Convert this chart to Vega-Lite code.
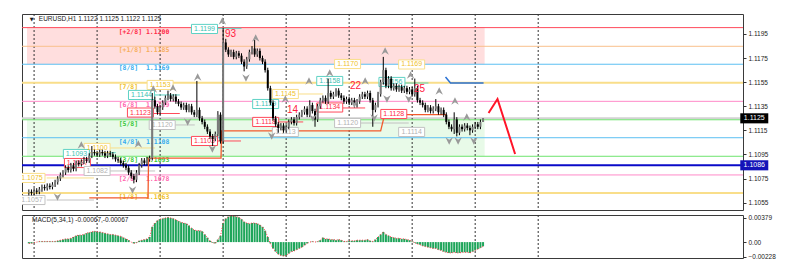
{
"$schema":"https://vega.github.io/schema/vega-lite/v6.json",
"background":"white",
"padding":{"left":20,"top":13,"right":5,"bottom":5},
"spacing":2,
"config":{"view":{"stroke":"#3a3a3a","strokeWidth":1},"font":"Liberation Sans"},
"datasets":{
"zones":[{"t":-2.7,"t2":171.6,"p":1.12003,"p2":1.11699,"z":"pink"},{"t":-2.7,"t2":171.6,"p":1.11238,"p2":1.10935,"z":"green"}],
"cur":[{"p":1.1125}],
"grid":[{"t":0},{"t":24},{"t":48},{"t":72},{"t":96},{"t":120},{"t":144},{"t":168},{"t":192}],
"mm":[{"lvl":"[+2/8]","txt":"1.1200","p":1.12003,"col":"red"},{"lvl":"[+1/8]","txt":"1.1185","p":1.11848,"col":"orange"},{"lvl":"[8/8]","txt":"1.1169","p":1.11699,"col":"sky"},{"lvl":"[7/8]","txt":"","p":1.11545,"col":"yellow"},{"lvl":"[6/8]","txt":"1.1139","p":1.11391,"col":"pink"},{"lvl":"[5/8]","txt":"","p":1.11238,"col":"green"},{"lvl":"[4/8]","txt":"1.1108","p":1.11089,"col":"sky"},{"lvl":"[3/8]","txt":"1.1093","p":1.10935,"col":"green"},{"lvl":"[2/8]","txt":"1.1078","p":1.1078,"col":"pink"},{"lvl":"[1/8]","txt":"1.1063","p":1.10631,"col":"yellow"},{"lvl":"","txt":"","p":1.1086,"col":"dblue"}],
"labels":[{"t":64.9,"p":1.11992,"txt":"1.1199","col":"teal"},{"t":48.0,"p":1.11527,"txt":"1.1153","col":"yellow"},{"t":40.9,"p":1.11444,"txt":"1.1144","col":"teal"},{"t":40.5,"p":1.11298,"txt":"1.1123","col":"red"},{"t":48.8,"p":1.11195,"txt":"1.1120","col":"grey"},{"t":64.9,"p":1.11062,"txt":"1.1103","col":"red"},{"t":24.0,"p":1.11004,"txt":"1.1100","col":"yellow"},{"t":16.1,"p":1.10954,"txt":"1.1093","col":"teal"},{"t":16.5,"p":1.10879,"txt":"1.1087","col":"red"},{"t":24.0,"p":1.10813,"txt":"1.1082","col":"grey"},{"t":-0.8,"p":1.10755,"txt":"1.1075","col":"yellow"},{"t":-0.8,"p":1.10572,"txt":"1.1057","col":"grey"},{"t":95.7,"p":1.11452,"txt":"1.1145","col":"yellow"},{"t":112.6,"p":1.1156,"txt":"1.1158","col":"teal"},{"t":119.4,"p":1.11701,"txt":"1.1170","col":"yellow"},{"t":112.6,"p":1.1134,"txt":"1.1134","col":"red"},{"t":119.4,"p":1.11211,"txt":"1.1120","col":"grey"},{"t":95.7,"p":1.11137,"txt":"1.1113","col":"grey"},{"t":88.2,"p":1.11369,"txt":"1.1139","col":"teal"},{"t":88.2,"p":1.1122,"txt":"1.1118","col":"red"},{"t":143.8,"p":1.11697,"txt":"1.1169","col":"yellow"},{"t":136.3,"p":1.11552,"txt":"1.1156","col":"teal"},{"t":137.0,"p":1.11286,"txt":"1.1128","col":"red"},{"t":143.8,"p":1.11137,"txt":"1.1114","col":"grey"}],
"segs":[{"t":69.5,"t2":79,"p":1.11997,"col":"teal"},{"t":45.4,"t2":55.5,"p":1.11444,"col":"teal"},{"t":44.3,"t2":55.5,"p":1.1129,"col":"red"},{"t":52.5,"t2":61.2,"p":1.11195,"col":"grey"},{"t":68.7,"t2":78.8,"p":1.11062,"col":"red"},{"t":28.5,"t2":46.1,"p":1.11004,"col":"yellow"},{"t":28.5,"t2":46.1,"p":1.10813,"col":"grey"},{"t":4.8,"t2":22.8,"p":1.10755,"col":"yellow"},{"t":4.8,"t2":22.8,"p":1.10572,"col":"grey"},{"t":19.1,"t2":31.1,"p":1.10965,"col":"teal"},{"t":100.6,"t2":110,"p":1.11452,"col":"yellow"},{"t":117.5,"t2":126.1,"p":1.11336,"col":"red"},{"t":93,"t2":102.5,"p":1.1122,"col":"red"},{"t":140.7,"t2":150.2,"p":1.11543,"col":"teal"},{"t":124,"t2":142.7,"p":1.11211,"col":"grey"}],
"step":[{"t":21,"p":1.1059},{"t":43.4,"p":1.1059},{"t":43.6,"p":1.1092},{"t":71.2,"p":1.1092},{"t":71.4,"p":1.11146},{"t":132,"p":1.11146},{"t":133.5,"p":1.1128},{"t":157,"p":1.1128}],
"fr":[{"t":45.4,"p":1.11494,"d":"u"},{"t":52.9,"p":1.11502,"d":"u"},{"t":62.3,"p":1.11593,"d":"u"},{"t":71.7,"p":1.12058,"d":"u"},{"t":84.4,"p":1.11917,"d":"u"},{"t":18.0,"p":1.11029,"d":"u"},{"t":39.7,"p":1.11037,"d":"u"},{"t":95.7,"p":1.11411,"d":"u"},{"t":104.7,"p":1.1156,"d":"u"},{"t":112.6,"p":1.11626,"d":"u"},{"t":126.1,"p":1.1156,"d":"u"},{"t":133.7,"p":1.11809,"d":"u"},{"t":143.4,"p":1.1161,"d":"u"},{"t":154.3,"p":1.11477,"d":"u"},{"t":160.3,"p":1.11394,"d":"u"},{"t":164.8,"p":1.11261,"d":"u"},{"t":80.7,"p":1.11585,"d":"d"},{"t":37.5,"p":1.10655,"d":"d"},{"t":8.9,"p":1.10597,"d":"d"},{"t":58.5,"p":1.1122,"d":"d"},{"t":67.9,"p":1.10996,"d":"d"},{"t":90.5,"p":1.11103,"d":"d"},{"t":106.2,"p":1.11253,"d":"d"},{"t":122.0,"p":1.11369,"d":"d"},{"t":129.5,"p":1.11253,"d":"d"},{"t":134.4,"p":1.11411,"d":"d"},{"t":142.7,"p":1.11411,"d":"d"},{"t":158.1,"p":1.11062,"d":"d"},{"t":161.5,"p":1.11062,"d":"d"},{"t":167.5,"p":1.11062,"d":"d"}],
"nums":[{"t":74.8,"p":1.1195,"txt":"93"},{"t":98.4,"p":1.11319,"txt":"14"},{"t":122.4,"p":1.11518,"txt":"22"},{"t":146.8,"p":1.11494,"txt":"25"}],
"bline":[{"t":156.7,"p":1.11593},{"t":158.6,"p":1.11543},{"t":171.2,"p":1.11543}],
"proj":[{"t":173.1,"p":1.11294},{"t":176.5,"p":1.1141},{"t":183.2,"p":1.10954}],
"px":[{"t":274.3,"p":1.1125,"txt":"1.1125","k":"cur"},{"t":274.3,"p":1.1086,"txt":"1.1086","k":"blue"}],
"hdr":[{"t":1.8,"p":1.12075,"txt":"EURUSD,H1  1.1122 1.1125 1.1122 1.1125"}],
"tri":[{"t":-0.9,"p":1.12075,"txt":"▼"}],
"mtitle":[{"t":-0.8,"m":0.00352,"txt":"MACD(5,34,1) -0.00067,-0.00067"}],
"candles":[
{"t":-2,"o":1.1063,"h":1.1066,"l":1.1061,"c":1.1064,"m":-0.0002},
{"t":-1,"o":1.1064,"h":1.1066,"l":1.1061,"c":1.1063,"m":-0.0002},
{"t":0,"o":1.1063,"h":1.1067,"l":1.1061,"c":1.1065,"m":-0.0001},
{"t":1,"o":1.1065,"h":1.1067,"l":1.1062,"c":1.1064,"m":0.0},
{"t":2,"o":1.1064,"h":1.1068,"l":1.1062,"c":1.1066,"m":0.0001},
{"t":3,"o":1.1066,"h":1.107,"l":1.1064,"c":1.1068,"m":0.0001},
{"t":4,"o":1.1068,"h":1.107,"l":1.1065,"c":1.1067,"m":0.0001},
{"t":5,"o":1.1067,"h":1.1071,"l":1.1065,"c":1.1069,"m":0.0001},
{"t":6,"o":1.1069,"h":1.1071,"l":1.1066,"c":1.1068,"m":0.0001},
{"t":7,"o":1.1068,"h":1.1072,"l":1.1066,"c":1.107,"m":0.0001},
{"t":8,"o":1.107,"h":1.1074,"l":1.1068,"c":1.1072,"m":0.0001},
{"t":9,"o":1.1072,"h":1.1077,"l":1.107,"c":1.1075,"m":0.0002},
{"t":10,"o":1.1075,"h":1.108,"l":1.1073,"c":1.1078,"m":0.0003},
{"t":11,"o":1.1078,"h":1.1082,"l":1.1076,"c":1.108,"m":0.0004},
{"t":12,"o":1.108,"h":1.1086,"l":1.1078,"c":1.1084,"m":0.0005},
{"t":13,"o":1.1084,"h":1.1086,"l":1.108,"c":1.1082,"m":0.0005},
{"t":14,"o":1.1082,"h":1.1088,"l":1.108,"c":1.1086,"m":0.0006},
{"t":15,"o":1.1086,"h":1.1088,"l":1.1081,"c":1.1083,"m":0.0008},
{"t":16,"o":1.1083,"h":1.109,"l":1.1081,"c":1.1088,"m":0.001},
{"t":17,"o":1.1088,"h":1.109,"l":1.1085,"c":1.1087,"m":0.0011},
{"t":18,"o":1.1087,"h":1.1091,"l":1.1085,"c":1.1089,"m":0.0011},
{"t":19,"o":1.1089,"h":1.1093,"l":1.1087,"c":1.1091,"m":0.0012},
{"t":20,"o":1.1091,"h":1.1093,"l":1.1088,"c":1.109,"m":0.0014},
{"t":21,"o":1.109,"h":1.1096,"l":1.1088,"c":1.1094,"m":0.0015},
{"t":22,"o":1.1094,"h":1.1102,"l":1.1092,"c":1.1097,"m":0.0016},
{"t":23,"o":1.1097,"h":1.1099,"l":1.1094,"c":1.1096,"m":0.0017},
{"t":24,"o":1.1096,"h":1.1098,"l":1.1093,"c":1.1095,"m":0.0016},
{"t":25,"o":1.1095,"h":1.1099,"l":1.1093,"c":1.1097,"m":0.0016},
{"t":26,"o":1.1097,"h":1.1099,"l":1.1094,"c":1.1096,"m":0.0015},
{"t":27,"o":1.1096,"h":1.1098,"l":1.1092,"c":1.1094,"m":0.0014},
{"t":28,"o":1.1094,"h":1.1098,"l":1.1092,"c":1.1096,"m":0.0013},
{"t":29,"o":1.1096,"h":1.1098,"l":1.1093,"c":1.1095,"m":0.0012},
{"t":30,"o":1.1095,"h":1.1097,"l":1.1091,"c":1.1093,"m":0.0012},
{"t":31,"o":1.1093,"h":1.1095,"l":1.1089,"c":1.1091,"m":0.0011},
{"t":32,"o":1.1091,"h":1.1093,"l":1.1088,"c":1.109,"m":0.001},
{"t":33,"o":1.109,"h":1.1092,"l":1.1086,"c":1.1088,"m":0.0009},
{"t":34,"o":1.1088,"h":1.109,"l":1.1084,"c":1.1086,"m":0.0007},
{"t":35,"o":1.1086,"h":1.1088,"l":1.1082,"c":1.1084,"m":0.0005},
{"t":36,"o":1.1084,"h":1.1086,"l":1.1078,"c":1.108,"m":0.0003},
{"t":37,"o":1.108,"h":1.1082,"l":1.1075,"c":1.1077,"m":0.0},
{"t":38,"o":1.1077,"h":1.1079,"l":1.1071,"c":1.1074,"m":-0.0002},
{"t":39,"o":1.1074,"h":1.1082,"l":1.1072,"c":1.108,"m":-0.0001},
{"t":40,"o":1.108,"h":1.1088,"l":1.1078,"c":1.1086,"m":0.0002},
{"t":41,"o":1.1086,"h":1.1092,"l":1.1084,"c":1.109,"m":0.0003},
{"t":42,"o":1.109,"h":1.1092,"l":1.1086,"c":1.1088,"m":0.0004},
{"t":43,"o":1.1088,"h":1.1093,"l":1.1086,"c":1.1091,"m":0.0005},
{"t":44,"o":1.1091,"h":1.1094,"l":1.1089,"c":1.1092,"m":0.0008},
{"t":45,"o":1.1092,"h":1.1146,"l":1.109,"c":1.114,"m":0.0024},
{"t":46,"o":1.114,"h":1.1143,"l":1.1133,"c":1.1135,"m":0.003},
{"t":47,"o":1.1135,"h":1.1137,"l":1.1128,"c":1.113,"m":0.0034},
{"t":48,"o":1.113,"h":1.1136,"l":1.1128,"c":1.1134,"m":0.0036},
{"t":49,"o":1.1134,"h":1.114,"l":1.1132,"c":1.1138,"m":0.0037},
{"t":50,"o":1.1138,"h":1.1144,"l":1.1136,"c":1.1142,"m":0.0038},
{"t":51,"o":1.1142,"h":1.1148,"l":1.114,"c":1.1144,"m":0.0039},
{"t":52,"o":1.1144,"h":1.1146,"l":1.1139,"c":1.1141,"m":0.0038},
{"t":53,"o":1.1141,"h":1.1145,"l":1.1139,"c":1.1143,"m":0.0037},
{"t":54,"o":1.1143,"h":1.1145,"l":1.1137,"c":1.1139,"m":0.0035},
{"t":55,"o":1.1139,"h":1.1141,"l":1.1135,"c":1.1137,"m":0.0033},
{"t":56,"o":1.1137,"h":1.1139,"l":1.1132,"c":1.1134,"m":0.0031},
{"t":57,"o":1.1134,"h":1.1138,"l":1.1132,"c":1.1136,"m":0.003},
{"t":58,"o":1.1136,"h":1.1138,"l":1.113,"c":1.1132,"m":0.0029},
{"t":59,"o":1.1132,"h":1.1137,"l":1.113,"c":1.1135,"m":0.0026},
{"t":60,"o":1.1135,"h":1.1137,"l":1.1128,"c":1.113,"m":0.0022},
{"t":61,"o":1.113,"h":1.1132,"l":1.1126,"c":1.1128,"m":0.0019},
{"t":62,"o":1.1128,"h":1.1156,"l":1.1126,"c":1.1132,"m":0.0018},
{"t":63,"o":1.1132,"h":1.1134,"l":1.1123,"c":1.1125,"m":0.0018},
{"t":64,"o":1.1125,"h":1.1127,"l":1.112,"c":1.1122,"m":0.0017},
{"t":65,"o":1.1122,"h":1.1124,"l":1.1116,"c":1.1118,"m":0.0012},
{"t":66,"o":1.1118,"h":1.112,"l":1.1112,"c":1.1114,"m":0.0007},
{"t":67,"o":1.1114,"h":1.1116,"l":1.1108,"c":1.111,"m":0.0002},
{"t":68,"o":1.111,"h":1.1112,"l":1.1102,"c":1.1108,"m":-0.0001},
{"t":69,"o":1.1108,"h":1.1114,"l":1.1106,"c":1.1112,"m":-0.0002},
{"t":70,"o":1.1112,"h":1.1131,"l":1.111,"c":1.1128,"m":0.0004},
{"t":71,"o":1.1128,"h":1.113,"l":1.1104,"c":1.1106,"m":0.001},
{"t":72,"o":1.1106,"h":1.12,"l":1.1104,"c":1.1188,"m":0.003},
{"t":73,"o":1.1188,"h":1.1191,"l":1.118,"c":1.1182,"m":0.0037},
{"t":74,"o":1.1182,"h":1.1184,"l":1.1176,"c":1.1178,"m":0.004},
{"t":75,"o":1.1178,"h":1.1182,"l":1.1176,"c":1.118,"m":0.0041},
{"t":76,"o":1.118,"h":1.1182,"l":1.1174,"c":1.1176,"m":0.0041},
{"t":77,"o":1.1176,"h":1.1181,"l":1.1174,"c":1.1179,"m":0.004},
{"t":78,"o":1.1179,"h":1.1181,"l":1.1175,"c":1.1177,"m":0.0039},
{"t":79,"o":1.1177,"h":1.1179,"l":1.117,"c":1.1172,"m":0.0036},
{"t":80,"o":1.1172,"h":1.1174,"l":1.1164,"c":1.1168,"m":0.0032},
{"t":81,"o":1.1168,"h":1.1176,"l":1.1166,"c":1.1174,"m":0.003},
{"t":82,"o":1.1174,"h":1.1182,"l":1.1172,"c":1.118,"m":0.0029},
{"t":83,"o":1.118,"h":1.1185,"l":1.1178,"c":1.1183,"m":0.003},
{"t":84,"o":1.1183,"h":1.119,"l":1.1176,"c":1.1178,"m":0.003},
{"t":85,"o":1.1178,"h":1.1183,"l":1.1176,"c":1.1181,"m":0.0029},
{"t":86,"o":1.1181,"h":1.1183,"l":1.1173,"c":1.1175,"m":0.0027},
{"t":87,"o":1.1175,"h":1.1177,"l":1.117,"c":1.1172,"m":0.0024},
{"t":88,"o":1.1172,"h":1.1174,"l":1.1163,"c":1.1165,"m":0.0018},
{"t":89,"o":1.1165,"h":1.1167,"l":1.1148,"c":1.115,"m":0.0008},
{"t":90,"o":1.115,"h":1.1152,"l":1.1136,"c":1.1138,"m":-0.0002},
{"t":91,"o":1.1138,"h":1.114,"l":1.1123,"c":1.1125,"m":-0.001},
{"t":92,"o":1.1125,"h":1.1127,"l":1.1118,"c":1.112,"m":-0.0015},
{"t":93,"o":1.112,"h":1.1122,"l":1.1113,"c":1.1117,"m":-0.0019},
{"t":94,"o":1.1117,"h":1.1121,"l":1.1115,"c":1.1119,"m":-0.0021},
{"t":95,"o":1.1119,"h":1.1121,"l":1.1113,"c":1.1115,"m":-0.0022},
{"t":96,"o":1.1115,"h":1.112,"l":1.1113,"c":1.1118,"m":-0.0021},
{"t":97,"o":1.1118,"h":1.1124,"l":1.1116,"c":1.1122,"m":-0.0018},
{"t":98,"o":1.1122,"h":1.1126,"l":1.112,"c":1.1124,"m":-0.0015},
{"t":99,"o":1.1124,"h":1.1126,"l":1.1119,"c":1.1121,"m":-0.0014},
{"t":100,"o":1.1121,"h":1.1128,"l":1.1119,"c":1.1126,"m":-0.0012},
{"t":101,"o":1.1126,"h":1.113,"l":1.1124,"c":1.1128,"m":-0.001},
{"t":102,"o":1.1128,"h":1.1132,"l":1.1126,"c":1.113,"m":-0.0008},
{"t":103,"o":1.113,"h":1.1135,"l":1.1128,"c":1.1133,"m":-0.0005},
{"t":104,"o":1.1133,"h":1.1135,"l":1.1126,"c":1.1128,"m":-0.0002},
{"t":105,"o":1.1128,"h":1.114,"l":1.1126,"c":1.1136,"m":0.0},
{"t":106,"o":1.1136,"h":1.1138,"l":1.1129,"c":1.1131,"m":0.0001},
{"t":107,"o":1.1131,"h":1.1133,"l":1.1118,"c":1.1124,"m":0.0},
{"t":108,"o":1.1124,"h":1.1137,"l":1.1122,"c":1.1135,"m":0.0001},
{"t":109,"o":1.1135,"h":1.1142,"l":1.1133,"c":1.114,"m":0.0003},
{"t":110,"o":1.114,"h":1.1144,"l":1.1138,"c":1.1142,"m":0.0007},
{"t":111,"o":1.1142,"h":1.1144,"l":1.1137,"c":1.1139,"m":0.0005},
{"t":112,"o":1.1139,"h":1.1158,"l":1.1137,"c":1.1146,"m":0.0005},
{"t":113,"o":1.1146,"h":1.1148,"l":1.1141,"c":1.1143,"m":0.0004},
{"t":114,"o":1.1143,"h":1.1147,"l":1.1141,"c":1.1145,"m":0.0004},
{"t":115,"o":1.1145,"h":1.115,"l":1.1143,"c":1.1148,"m":0.0003},
{"t":116,"o":1.1148,"h":1.115,"l":1.1142,"c":1.1144,"m":0.0004},
{"t":117,"o":1.1144,"h":1.1146,"l":1.114,"c":1.1142,"m":0.0003},
{"t":118,"o":1.1142,"h":1.1144,"l":1.1137,"c":1.1139,"m":0.0001},
{"t":119,"o":1.1139,"h":1.1143,"l":1.1137,"c":1.1141,"m":0.0001},
{"t":120,"o":1.1141,"h":1.1143,"l":1.1136,"c":1.1138,"m":0.0002},
{"t":121,"o":1.1138,"h":1.1142,"l":1.1136,"c":1.114,"m":0.0002},
{"t":122,"o":1.114,"h":1.1142,"l":1.1134,"c":1.1136,"m":0.0002},
{"t":123,"o":1.1136,"h":1.1141,"l":1.1134,"c":1.1139,"m":0.0003},
{"t":124,"o":1.1139,"h":1.1145,"l":1.1137,"c":1.1143,"m":0.0003},
{"t":125,"o":1.1143,"h":1.1147,"l":1.1141,"c":1.1145,"m":0.0003},
{"t":126,"o":1.1145,"h":1.1147,"l":1.1141,"c":1.1143,"m":0.0003},
{"t":127,"o":1.1143,"h":1.1148,"l":1.1141,"c":1.1146,"m":0.0004},
{"t":128,"o":1.1146,"h":1.1148,"l":1.1138,"c":1.114,"m":0.0002},
{"t":129,"o":1.114,"h":1.1142,"l":1.1118,"c":1.1132,"m":0.0001},
{"t":130,"o":1.1132,"h":1.1138,"l":1.113,"c":1.1136,"m":0.0004},
{"t":131,"o":1.1136,"h":1.1147,"l":1.1134,"c":1.1145,"m":0.0008},
{"t":132,"o":1.1145,"h":1.1157,"l":1.1143,"c":1.1155,"m":0.0012},
{"t":133,"o":1.1155,"h":1.1176,"l":1.1153,"c":1.1165,"m":0.0016},
{"t":134,"o":1.1165,"h":1.1167,"l":1.115,"c":1.1152,"m":0.0012},
{"t":135,"o":1.1152,"h":1.116,"l":1.115,"c":1.1158,"m":0.001},
{"t":136,"o":1.1158,"h":1.116,"l":1.1148,"c":1.115,"m":0.0008},
{"t":137,"o":1.115,"h":1.1154,"l":1.1148,"c":1.1152,"m":0.0007},
{"t":138,"o":1.1152,"h":1.1154,"l":1.1147,"c":1.1149,"m":0.0006},
{"t":139,"o":1.1149,"h":1.1153,"l":1.1147,"c":1.1151,"m":0.0006},
{"t":140,"o":1.1151,"h":1.1153,"l":1.1146,"c":1.1148,"m":0.0005},
{"t":141,"o":1.1148,"h":1.1152,"l":1.1146,"c":1.115,"m":0.0005},
{"t":142,"o":1.115,"h":1.1152,"l":1.1145,"c":1.1147,"m":0.0004},
{"t":143,"o":1.1147,"h":1.1151,"l":1.1145,"c":1.1149,"m":0.0003},
{"t":144,"o":1.1149,"h":1.1151,"l":1.1143,"c":1.1145,"m":0.0001},
{"t":145,"o":1.1145,"h":1.1158,"l":1.1143,"c":1.115,"m":-0.0001},
{"t":146,"o":1.115,"h":1.1152,"l":1.1138,"c":1.114,"m":-0.0003},
{"t":147,"o":1.114,"h":1.1142,"l":1.1136,"c":1.1138,"m":-0.0004},
{"t":148,"o":1.1138,"h":1.114,"l":1.1134,"c":1.1136,"m":-0.0006},
{"t":149,"o":1.1136,"h":1.1138,"l":1.113,"c":1.1132,"m":-0.0007},
{"t":150,"o":1.1132,"h":1.1136,"l":1.113,"c":1.1134,"m":-0.0008},
{"t":151,"o":1.1134,"h":1.1136,"l":1.1129,"c":1.1131,"m":-0.0009},
{"t":152,"o":1.1131,"h":1.1135,"l":1.1129,"c":1.1133,"m":-0.001},
{"t":153,"o":1.1133,"h":1.1141,"l":1.1131,"c":1.1135,"m":-0.001},
{"t":154,"o":1.1135,"h":1.1137,"l":1.1128,"c":1.113,"m":-0.0012},
{"t":155,"o":1.113,"h":1.1134,"l":1.1128,"c":1.1132,"m":-0.0013},
{"t":156,"o":1.1132,"h":1.1134,"l":1.1126,"c":1.1128,"m":-0.0015},
{"t":157,"o":1.1128,"h":1.113,"l":1.112,"c":1.1122,"m":-0.0016},
{"t":158,"o":1.1122,"h":1.1124,"l":1.1116,"c":1.1118,"m":-0.0017},
{"t":159,"o":1.1118,"h":1.112,"l":1.1114,"c":1.1116,"m":-0.0017},
{"t":160,"o":1.1116,"h":1.113,"l":1.1112,"c":1.1124,"m":-0.0016},
{"t":161,"o":1.1124,"h":1.1126,"l":1.111,"c":1.1113,"m":-0.0017},
{"t":162,"o":1.1113,"h":1.112,"l":1.1111,"c":1.1118,"m":-0.0017},
{"t":163,"o":1.1118,"h":1.112,"l":1.1114,"c":1.1116,"m":-0.0016},
{"t":164,"o":1.1116,"h":1.1121,"l":1.1114,"c":1.1119,"m":-0.0016},
{"t":165,"o":1.1119,"h":1.1121,"l":1.1115,"c":1.1117,"m":-0.0016},
{"t":166,"o":1.1117,"h":1.1119,"l":1.1111,"c":1.1115,"m":-0.0017},
{"t":167,"o":1.1115,"h":1.112,"l":1.1113,"c":1.1118,"m":-0.0015},
{"t":168,"o":1.1118,"h":1.1122,"l":1.1116,"c":1.112,"m":-0.0013},
{"t":169,"o":1.112,"h":1.1122,"l":1.1116,"c":1.1118,"m":-0.0011},
{"t":170,"o":1.1118,"h":1.1124,"l":1.1116,"c":1.1122,"m":-0.0009},
{"t":171,"o":1.1122,"h":1.1125,"l":1.1122,"c":1.1125,"m":-0.00067}
]
},
"vconcat":[
{
"width":721,"height":196,
"layer":[
{"data":{"name":"zones"},"mark":{"type":"rect"},"encoding":{
"x":{"field":"t","type":"quantitative","scale":{"domain":[-2.7,268.1],"nice":false,"zero":false},"axis":null},
"x2":{"field":"t2"},
"y":{"field":"p","type":"quantitative","scale":{"domain":[1.10489,1.12116],"nice":false,"zero":false},"axis":{"orient":"right","values":[1.1055,1.1075,1.1095,1.1115,1.1135,1.1155,1.1175,1.1195],"format":".4f","title":null,"grid":false,"domain":false,"ticks":true,"tickSize":3,"tickColor":"#333","labelFont":"Liberation Sans","labelFontSize":6.5,"labelColor":"#222","labelPadding":2}},
"y2":{"field":"p2"},
"color":{"field":"z","type":"nominal","scale":{"domain":["pink","green"],"range":["#ffdede","#e8fae8"]},"legend":null}}},
{"data":{"name":"cur"},"mark":{"type":"rule","color":"#d2d2d2","strokeWidth":2},"encoding":{
"y":{"field":"p","type":"quantitative","scale":{"domain":[1.10489,1.12116],"nice":false,"zero":false},"axis":{"orient":"right","values":[1.1055,1.1075,1.1095,1.1115,1.1135,1.1155,1.1175,1.1195],"format":".4f","title":null,"grid":false,"domain":false,"ticks":true,"tickSize":3,"tickColor":"#333","labelFont":"Liberation Sans","labelFontSize":6.5,"labelColor":"#222","labelPadding":2}}}},
{"data":{"name":"grid"},"mark":{"type":"rule","color":"#333","strokeDash":[2,2],"strokeWidth":1},"encoding":{
"x":{"field":"t","type":"quantitative","scale":{"domain":[-2.7,268.1],"nice":false,"zero":false},"axis":null}}},
{"data":{"name":"mm"},"transform":[{"filter":"datum.col != 'yellow' && datum.col != 'dblue'"}],"mark":{"type":"rule","strokeWidth":1},"encoding":{
"y":{"field":"p","type":"quantitative","scale":{"domain":[1.10489,1.12116],"nice":false,"zero":false},"axis":{"orient":"right","values":[1.1055,1.1075,1.1095,1.1115,1.1135,1.1155,1.1175,1.1195],"format":".4f","title":null,"grid":false,"domain":false,"ticks":true,"tickSize":3,"tickColor":"#333","labelFont":"Liberation Sans","labelFontSize":6.5,"labelColor":"#222","labelPadding":2}},
"stroke":{"field":"col","type":"nominal","scale":{"domain":["red","orange","sky","yellow","pink","green","teal","grey","dblue"],"range":["#ff4a5a","#f9c08c","#5cbff2","#f9de8a","#ff8ac8","#6ee46e","#5ed2c4","#c2c2c2","#0a0ac8"]},"legend":null}}},
{"data":{"name":"mm"},"transform":[{"filter":"datum.col == 'yellow' || datum.col == 'dblue'"}],"mark":{"type":"rule","strokeWidth":2},"encoding":{
"y":{"field":"p","type":"quantitative","scale":{"domain":[1.10489,1.12116],"nice":false,"zero":false},"axis":{"orient":"right","values":[1.1055,1.1075,1.1095,1.1115,1.1135,1.1155,1.1175,1.1195],"format":".4f","title":null,"grid":false,"domain":false,"ticks":true,"tickSize":3,"tickColor":"#333","labelFont":"Liberation Sans","labelFontSize":6.5,"labelColor":"#222","labelPadding":2}},
"stroke":{"field":"col","type":"nominal","scale":{"domain":["red","orange","sky","yellow","pink","green","teal","grey","dblue"],"range":["#ff4a5a","#f9c08c","#5cbff2","#f9de8a","#ff8ac8","#6ee46e","#5ed2c4","#c2c2c2","#0a0ac8"]},"legend":null}}},
{"data":{"name":"mm"},"transform":[{"filter":"datum.col != 'dblue'"}],"mark":{"type":"text","font":"DejaVu Sans Mono","fontWeight":"bold","fontSize":6.5,"align":"left","baseline":"top","dy":1},"encoding":{
"x":{"datum":32.2,"type":"quantitative","scale":{"domain":[-2.7,268.1],"nice":false,"zero":false},"axis":null},
"y":{"field":"p","type":"quantitative","scale":{"domain":[1.10489,1.12116],"nice":false,"zero":false},"axis":{"orient":"right","values":[1.1055,1.1075,1.1095,1.1115,1.1135,1.1155,1.1175,1.1195],"format":".4f","title":null,"grid":false,"domain":false,"ticks":true,"tickSize":3,"tickColor":"#333","labelFont":"Liberation Sans","labelFontSize":6.5,"labelColor":"#222","labelPadding":2}},
"text":{"field":"lvl"},
"fill":{"field":"col","type":"nominal","scale":{"domain":["red","orange","sky","yellow","pink","green","teal","grey"],"range":["#ff2a48","#f7ae5c","#36acef","#efbf2a","#ff66ae","#36c836","#3cc2b2","#b2b2b2"]},"legend":null}}},
{"data":{"name":"mm"},"transform":[{"filter":"datum.col != 'dblue' && datum.txt != ''"}],"mark":{"type":"text","font":"DejaVu Sans Mono","fontWeight":"bold","fontSize":6.5,"align":"left","baseline":"top","dy":1},"encoding":{
"x":{"datum":42.6,"type":"quantitative","scale":{"domain":[-2.7,268.1],"nice":false,"zero":false},"axis":null},
"y":{"field":"p","type":"quantitative","scale":{"domain":[1.10489,1.12116],"nice":false,"zero":false},"axis":{"orient":"right","values":[1.1055,1.1075,1.1095,1.1115,1.1135,1.1155,1.1175,1.1195],"format":".4f","title":null,"grid":false,"domain":false,"ticks":true,"tickSize":3,"tickColor":"#333","labelFont":"Liberation Sans","labelFontSize":6.5,"labelColor":"#222","labelPadding":2}},
"text":{"field":"txt"},
"fill":{"field":"col","type":"nominal","scale":{"domain":["red","orange","sky","yellow","pink","green","teal","grey"],"range":["#ff2a48","#f7ae5c","#36acef","#efbf2a","#ff66ae","#36c836","#3cc2b2","#b2b2b2"]},"legend":null}}},
{"data":{"name":"segs"},"mark":{"type":"rule","strokeWidth":1},"encoding":{
"x":{"field":"t","type":"quantitative","scale":{"domain":[-2.7,268.1],"nice":false,"zero":false},"axis":null},
"x2":{"field":"t2"},
"y":{"field":"p","type":"quantitative","scale":{"domain":[1.10489,1.12116],"nice":false,"zero":false},"axis":{"orient":"right","values":[1.1055,1.1075,1.1095,1.1115,1.1135,1.1155,1.1175,1.1195],"format":".4f","title":null,"grid":false,"domain":false,"ticks":true,"tickSize":3,"tickColor":"#333","labelFont":"Liberation Sans","labelFontSize":6.5,"labelColor":"#222","labelPadding":2}},
"stroke":{"field":"col","type":"nominal","scale":{"domain":["red","orange","sky","yellow","pink","green","teal","grey","dblue"],"range":["#ff4a5a","#f9c08c","#5cbff2","#f9de8a","#ff8ac8","#6ee46e","#5ed2c4","#c2c2c2","#0a0ac8"]},"legend":null}}},
{"data":{"name":"step"},"mark":{"type":"line","color":"#f25a2c","strokeWidth":1.3},"encoding":{
"x":{"field":"t","type":"quantitative","scale":{"domain":[-2.7,268.1],"nice":false,"zero":false},"axis":null},
"y":{"field":"p","type":"quantitative","scale":{"domain":[1.10489,1.12116],"nice":false,"zero":false},"axis":{"orient":"right","values":[1.1055,1.1075,1.1095,1.1115,1.1135,1.1155,1.1175,1.1195],"format":".4f","title":null,"grid":false,"domain":false,"ticks":true,"tickSize":3,"tickColor":"#333","labelFont":"Liberation Sans","labelFontSize":6.5,"labelColor":"#222","labelPadding":2}}}},
{"data":{"name":"labels"},"mark":{"type":"point","filled":true,"fill":"white","opacity":1,"strokeWidth":1,"shape":"M-1,-0.35H1V0.35H-1Z","size":676,"clip":true},"encoding":{
"x":{"field":"t","type":"quantitative","scale":{"domain":[-2.7,268.1],"nice":false,"zero":false},"axis":null},
"y":{"field":"p","type":"quantitative","scale":{"domain":[1.10489,1.12116],"nice":false,"zero":false},"axis":{"orient":"right","values":[1.1055,1.1075,1.1095,1.1115,1.1135,1.1155,1.1175,1.1195],"format":".4f","title":null,"grid":false,"domain":false,"ticks":true,"tickSize":3,"tickColor":"#333","labelFont":"Liberation Sans","labelFontSize":6.5,"labelColor":"#222","labelPadding":2}},
"stroke":{"field":"col","type":"nominal","scale":{"domain":["red","orange","sky","yellow","pink","green","teal","grey","dblue"],"range":["#ff4a5a","#f9c08c","#5cbff2","#f9de8a","#ff8ac8","#6ee46e","#5ed2c4","#c2c2c2","#0a0ac8"]},"legend":null}}},
{"data":{"name":"labels"},"mark":{"type":"text","font":"Liberation Sans","fontSize":7,"align":"center","baseline":"middle","clip":true},"encoding":{
"x":{"field":"t","type":"quantitative","scale":{"domain":[-2.7,268.1],"nice":false,"zero":false},"axis":null},
"y":{"field":"p","type":"quantitative","scale":{"domain":[1.10489,1.12116],"nice":false,"zero":false},"axis":{"orient":"right","values":[1.1055,1.1075,1.1095,1.1115,1.1135,1.1155,1.1175,1.1195],"format":".4f","title":null,"grid":false,"domain":false,"ticks":true,"tickSize":3,"tickColor":"#333","labelFont":"Liberation Sans","labelFontSize":6.5,"labelColor":"#222","labelPadding":2}},
"text":{"field":"txt"},
"fill":{"field":"col","type":"nominal","scale":{"domain":["red","orange","sky","yellow","pink","green","teal","grey"],"range":["#ff2a48","#f7ae5c","#36acef","#efbf2a","#ff66ae","#36c836","#3cc2b2","#b2b2b2"]},"legend":null}}},
{"data":{"name":"candles"},"mark":{"type":"rule","color":"#000","strokeWidth":1},"encoding":{
"x":{"field":"t","type":"quantitative","scale":{"domain":[-2.7,268.1],"nice":false,"zero":false},"axis":null},
"y":{"field":"l","type":"quantitative","scale":{"domain":[1.10489,1.12116],"nice":false,"zero":false},"axis":{"orient":"right","values":[1.1055,1.1075,1.1095,1.1115,1.1135,1.1155,1.1175,1.1195],"format":".4f","title":null,"grid":false,"domain":false,"ticks":true,"tickSize":3,"tickColor":"#333","labelFont":"Liberation Sans","labelFontSize":6.5,"labelColor":"#222","labelPadding":2}},
"y2":{"field":"h"}}},
{"data":{"name":"candles"},"mark":{"type":"bar","size":2},"encoding":{
"x":{"field":"t","type":"quantitative","scale":{"domain":[-2.7,268.1],"nice":false,"zero":false},"axis":null},
"y":{"field":"o","type":"quantitative","scale":{"domain":[1.10489,1.12116],"nice":false,"zero":false},"axis":{"orient":"right","values":[1.1055,1.1075,1.1095,1.1115,1.1135,1.1155,1.1175,1.1195],"format":".4f","title":null,"grid":false,"domain":false,"ticks":true,"tickSize":3,"tickColor":"#333","labelFont":"Liberation Sans","labelFontSize":6.5,"labelColor":"#222","labelPadding":2}},
"y2":{"field":"c"},
"color":{"condition":{"test":"datum.c > datum.o","value":"#7a7a7a"},"value":"#000"}}},
{"data":{"name":"fr"},"mark":{"type":"point","filled":true,"color":"#9a9a9a","opacity":1,"size":56},"encoding":{
"x":{"field":"t","type":"quantitative","scale":{"domain":[-2.7,268.1],"nice":false,"zero":false},"axis":null},
"y":{"field":"p","type":"quantitative","scale":{"domain":[1.10489,1.12116],"nice":false,"zero":false},"axis":{"orient":"right","values":[1.1055,1.1075,1.1095,1.1115,1.1135,1.1155,1.1175,1.1195],"format":".4f","title":null,"grid":false,"domain":false,"ticks":true,"tickSize":3,"tickColor":"#333","labelFont":"Liberation Sans","labelFontSize":6.5,"labelColor":"#222","labelPadding":2}},
"shape":{"field":"d","type":"nominal","scale":{"domain":["u","d"],"range":["M-1,1L0,-1L1,1L0,0.35Z","M-1,-1L0,1L1,-1L0,-0.35Z"]},"legend":null}}},
{"data":{"name":"nums"},"mark":{"type":"text","font":"Liberation Sans","fontSize":10,"color":"#ff2040","align":"center","baseline":"middle"},"encoding":{
"x":{"field":"t","type":"quantitative","scale":{"domain":[-2.7,268.1],"nice":false,"zero":false},"axis":null},
"y":{"field":"p","type":"quantitative","scale":{"domain":[1.10489,1.12116],"nice":false,"zero":false},"axis":{"orient":"right","values":[1.1055,1.1075,1.1095,1.1115,1.1135,1.1155,1.1175,1.1195],"format":".4f","title":null,"grid":false,"domain":false,"ticks":true,"tickSize":3,"tickColor":"#333","labelFont":"Liberation Sans","labelFontSize":6.5,"labelColor":"#222","labelPadding":2}},
"text":{"field":"txt"}}},
{"data":{"name":"bline"},"mark":{"type":"line","color":"#2a72d4","strokeWidth":1.5},"encoding":{
"x":{"field":"t","type":"quantitative","scale":{"domain":[-2.7,268.1],"nice":false,"zero":false},"axis":null},
"y":{"field":"p","type":"quantitative","scale":{"domain":[1.10489,1.12116],"nice":false,"zero":false},"axis":{"orient":"right","values":[1.1055,1.1075,1.1095,1.1115,1.1135,1.1155,1.1175,1.1195],"format":".4f","title":null,"grid":false,"domain":false,"ticks":true,"tickSize":3,"tickColor":"#333","labelFont":"Liberation Sans","labelFontSize":6.5,"labelColor":"#222","labelPadding":2}}}},
{"data":{"name":"proj"},"mark":{"type":"line","color":"#ff1428","strokeWidth":2},"encoding":{
"x":{"field":"t","type":"quantitative","scale":{"domain":[-2.7,268.1],"nice":false,"zero":false},"axis":null},
"y":{"field":"p","type":"quantitative","scale":{"domain":[1.10489,1.12116],"nice":false,"zero":false},"axis":{"orient":"right","values":[1.1055,1.1075,1.1095,1.1115,1.1135,1.1155,1.1175,1.1195],"format":".4f","title":null,"grid":false,"domain":false,"ticks":true,"tickSize":3,"tickColor":"#333","labelFont":"Liberation Sans","labelFontSize":6.5,"labelColor":"#222","labelPadding":2}}}},
{"data":{"name":"px"},"transform":[{"filter":"datum.k == 'cur'"}],"mark":{"type":"point","filled":true,"color":"#000","opacity":1,"shape":"M-1,-0.36H1V0.36H-1Z","size":784},"encoding":{
"x":{"field":"t","type":"quantitative","scale":{"domain":[-2.7,268.1],"nice":false,"zero":false},"axis":null},
"y":{"field":"p","type":"quantitative","scale":{"domain":[1.10489,1.12116],"nice":false,"zero":false},"axis":{"orient":"right","values":[1.1055,1.1075,1.1095,1.1115,1.1135,1.1155,1.1175,1.1195],"format":".4f","title":null,"grid":false,"domain":false,"ticks":true,"tickSize":3,"tickColor":"#333","labelFont":"Liberation Sans","labelFontSize":6.5,"labelColor":"#222","labelPadding":2}}}},
{"data":{"name":"px"},"transform":[{"filter":"datum.k == 'blue'"}],"mark":{"type":"point","filled":true,"color":"#1414b8","opacity":1,"shape":"M-1,-0.36H1V0.36H-1Z","size":784},"encoding":{
"x":{"field":"t","type":"quantitative","scale":{"domain":[-2.7,268.1],"nice":false,"zero":false},"axis":null},
"y":{"field":"p","type":"quantitative","scale":{"domain":[1.10489,1.12116],"nice":false,"zero":false},"axis":{"orient":"right","values":[1.1055,1.1075,1.1095,1.1115,1.1135,1.1155,1.1175,1.1195],"format":".4f","title":null,"grid":false,"domain":false,"ticks":true,"tickSize":3,"tickColor":"#333","labelFont":"Liberation Sans","labelFontSize":6.5,"labelColor":"#222","labelPadding":2}}}},
{"data":{"name":"px"},"mark":{"type":"text","font":"Liberation Sans","fontSize":7,"color":"white","align":"center","baseline":"middle"},"encoding":{
"x":{"field":"t","type":"quantitative","scale":{"domain":[-2.7,268.1],"nice":false,"zero":false},"axis":null},
"y":{"field":"p","type":"quantitative","scale":{"domain":[1.10489,1.12116],"nice":false,"zero":false},"axis":{"orient":"right","values":[1.1055,1.1075,1.1095,1.1115,1.1135,1.1155,1.1175,1.1195],"format":".4f","title":null,"grid":false,"domain":false,"ticks":true,"tickSize":3,"tickColor":"#333","labelFont":"Liberation Sans","labelFontSize":6.5,"labelColor":"#222","labelPadding":2}},
"text":{"field":"txt"}}},
{"data":{"name":"hdr"},"mark":{"type":"text","font":"Liberation Sans","fontSize":6.5,"color":"#1a1a1a","align":"left","baseline":"middle"},"encoding":{
"x":{"field":"t","type":"quantitative","scale":{"domain":[-2.7,268.1],"nice":false,"zero":false},"axis":null},
"y":{"field":"p","type":"quantitative","scale":{"domain":[1.10489,1.12116],"nice":false,"zero":false},"axis":{"orient":"right","values":[1.1055,1.1075,1.1095,1.1115,1.1135,1.1155,1.1175,1.1195],"format":".4f","title":null,"grid":false,"domain":false,"ticks":true,"tickSize":3,"tickColor":"#333","labelFont":"Liberation Sans","labelFontSize":6.5,"labelColor":"#222","labelPadding":2}},
"text":{"field":"txt"}}},
{"data":{"name":"tri"},"mark":{"type":"text","font":"DejaVu Sans","fontSize":5,"color":"#1a1a1a","align":"center","baseline":"middle"},"encoding":{
"x":{"field":"t","type":"quantitative","scale":{"domain":[-2.7,268.1],"nice":false,"zero":false},"axis":null},
"y":{"field":"p","type":"quantitative","scale":{"domain":[1.10489,1.12116],"nice":false,"zero":false},"axis":{"orient":"right","values":[1.1055,1.1075,1.1095,1.1115,1.1135,1.1155,1.1175,1.1195],"format":".4f","title":null,"grid":false,"domain":false,"ticks":true,"tickSize":3,"tickColor":"#333","labelFont":"Liberation Sans","labelFontSize":6.5,"labelColor":"#222","labelPadding":2}},
"text":{"field":"txt"}}}
]
},
{
"width":721,"height":43,
"layer":[
{"data":{"name":"grid"},"mark":{"type":"rule","color":"#333","strokeDash":[2,2],"strokeWidth":1},"encoding":{
"x":{"field":"t","type":"quantitative","scale":{"domain":[-2.7,268.1],"nice":false,"zero":false},"axis":null}}},
{"data":{"name":"candles"},"mark":{"type":"bar","size":2,"color":"#1ea55a"},"encoding":{
"x":{"field":"t","type":"quantitative","scale":{"domain":[-2.7,268.1],"nice":false,"zero":false},"axis":null},
"y":{"field":"m","type":"quantitative","scale":{"domain":[-0.0025,0.00426],"nice":false,"zero":false},"axis":{"orient":"right","values":[-0.00228,0,0.00379],"labelExpr":"datum.value == 0 ? '0.00' : format(datum.value, '.5f')","title":null,"grid":false,"domain":false,"ticks":true,"tickSize":3,"tickColor":"#333","labelFont":"Liberation Sans","labelFontSize":6.5,"labelColor":"#222","labelPadding":2}},
"y2":{"datum":0}}},
{"data":{"name":"candles"},"mark":{"type":"line","color":"#ff3040","strokeWidth":1,"strokeDash":[1,1.6]},"encoding":{
"x":{"field":"t","type":"quantitative","scale":{"domain":[-2.7,268.1],"nice":false,"zero":false},"axis":null},
"y":{"field":"m","type":"quantitative","scale":{"domain":[-0.0025,0.00426],"nice":false,"zero":false},"axis":{"orient":"right","values":[-0.00228,0,0.00379],"labelExpr":"datum.value == 0 ? '0.00' : format(datum.value, '.5f')","title":null,"grid":false,"domain":false,"ticks":true,"tickSize":3,"tickColor":"#333","labelFont":"Liberation Sans","labelFontSize":6.5,"labelColor":"#222","labelPadding":2}}}},
{"data":{"name":"mtitle"},"mark":{"type":"text","font":"Liberation Sans","fontSize":6.5,"color":"#1a1a1a","align":"left","baseline":"middle"},"encoding":{
"x":{"field":"t","type":"quantitative","scale":{"domain":[-2.7,268.1],"nice":false,"zero":false},"axis":null},
"y":{"field":"m","type":"quantitative","scale":{"domain":[-0.0025,0.00426],"nice":false,"zero":false},"axis":{"orient":"right","values":[-0.00228,0,0.00379],"labelExpr":"datum.value == 0 ? '0.00' : format(datum.value, '.5f')","title":null,"grid":false,"domain":false,"ticks":true,"tickSize":3,"tickColor":"#333","labelFont":"Liberation Sans","labelFontSize":6.5,"labelColor":"#222","labelPadding":2}},
"text":{"field":"txt"}}}
]
}
]
}
